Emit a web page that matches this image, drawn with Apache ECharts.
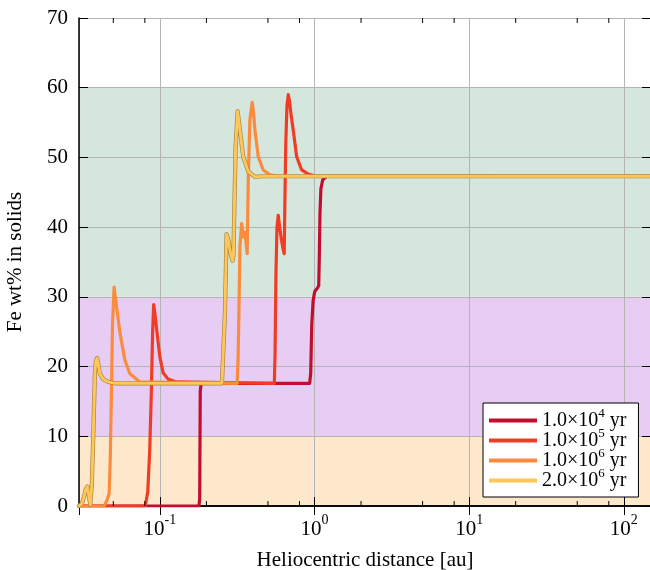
<!DOCTYPE html>
<html><head><meta charset="utf-8">
<script src="https://cdn.jsdelivr.net/npm/echarts@6/dist/echarts.min.js"></script>
<style>html,body{margin:0;padding:0;background:#fff}#c{width:650px;height:570px}</style>
</head><body><div id="c"></div>
<script>
// ---- data ----
const seriesMantissa = ['1.0', '1.0', '1.0', '2.0'];
const seriesExponent = [4, 5, 6, 6];
const seriesColors = ['#c30d2f', '#f03c24', '#fb8b3d', '#fdc75c'];

const dist1e4 = [0.03, 0.179, 0.181, 0.1825, 0.185, 0.93, 0.945, 0.96, 0.98, 1.005, 1.04, 1.065, 1.075, 1.085, 1.10, 1.13, 1.2, 150];
const fe1e4   = [0, 0, 1, 16.5, 17.6, 17.6, 19, 26, 29.5, 30.8, 31.2, 31.6, 36, 42, 45.5, 46.8, 47.3, 47.3];

const dist1e5 = [0.03, 0.0805, 0.0835, 0.086, 0.088, 0.0898, 0.0912, 0.093, 0.0955, 0.100, 0.105, 0.113, 0.128, 0.55, 0.556, 0.563, 0.572, 0.583, 0.595, 0.61, 0.625, 0.637, 0.643, 0.652, 0.664, 0.677, 0.69, 0.705, 0.729, 0.767, 0.826, 0.912, 1.0, 150];
const fe1e5   = [0, 0, 2, 8, 16, 25, 28.9, 27.5, 25.2, 21.4, 19.1, 18.2, 17.8, 17.6, 22, 33, 40, 41.7, 40, 38.3, 37, 36.2, 43, 52, 57.5, 59.0, 58.0, 56.2, 53.9, 50.1, 48.2, 47.6, 47.35, 47.3];

const dist1e6 = [0.03, 0.0436, 0.0455, 0.047, 0.0478, 0.0486, 0.0494, 0.0506, 0.0515, 0.0527, 0.0551, 0.0594, 0.0639, 0.0742, 0.316, 0.3205, 0.3245, 0.3295, 0.338, 0.346, 0.355, 0.367, 0.373, 0.382, 0.396, 0.403, 0.412, 0.433, 0.466, 0.515, 0.6, 150];
const fe1e6   = [0, 0, 0.8, 1.8, 7, 16, 26, 31.4, 30, 28.3, 25, 20.9, 19, 17.8, 17.6, 21, 27.7, 37.2, 40.5, 38.6, 39.3, 36.2, 46.8, 55.4, 57.9, 56.5, 53.9, 50.1, 48.2, 47.5, 47.3, 47.3];

const dist2e6 = [0.03, 0.0313, 0.0322, 0.0332, 0.034, 0.0347, 0.0355, 0.0363, 0.0371, 0.038, 0.0386, 0.0393, 0.040, 0.0409, 0.0418, 0.043, 0.0463, 0.0513, 0.252, 0.2569, 0.2634, 0.2702, 0.2768, 0.2869, 0.2956, 0.2991, 0.3027, 0.309, 0.3183, 0.3295, 0.3461, 0.3728, 0.4121, 0.457, 150];
const fe2e6   = [0, 0.3, 1.2, 2.4, 2.8, 1.5, 0.2, 3, 10, 19, 20.8, 21.2, 20.4, 19.0, 18.7, 18.2, 17.8, 17.6, 17.6, 17.8, 27.6, 39.0, 38.2, 36.2, 35.2, 36, 42, 51.5, 56.6, 53.9, 50.1, 48, 47.2, 47.3, 47.3];

const xMin = 0.03, xMax = 150;
const yMin = 0, yMax = 70, yStep = 10;
const xMajorExponents = [-1, 0, 1, 2];
const xMinorTicks = [0.05, 0.08, 0.2, 0.5, 0.8, 2, 5, 8, 20, 50, 80];
// bands per 10-unit interval, 0-10 ... 60-70
const bandColors = ['#fde8cc', '#e7cdf3', '#e7cdf3', '#d5e6dc', '#d5e6dc', '#d5e6dc', '#ffffff'];

// ---- chart ----
const FONT = '"Liberation Serif", "Times New Roman", serif';
const dists = [dist1e4, dist1e5, dist1e6, dist2e6];
const fes = [fe1e4, fe1e5, fe1e6, fe2e6];
const names = seriesMantissa.map((m, i) => m + '×10^' + seriesExponent[i] + ' yr');
const pairs = (d, v) => d.map((x, i) => [x, v[i]]);

const axisRich = {
  b: { fontFamily: FONT, fontSize: 21, color: '#000', lineHeight: 20 },
  s: { fontFamily: FONT, fontSize: 14, color: '#000', lineHeight: 14, padding: [0, 0, 18, 0] }
};
const legendRich = {
  b: { fontFamily: FONT, fontSize: 20, color: '#000', lineHeight: 20 },
  s: { fontFamily: FONT, fontSize: 13, color: '#000', lineHeight: 13, padding: [0, 0, 14, 0] }
};

const lineSeries = [];
names.forEach((n, i) => {
  if (i === 3) {
    lineSeries.push({
      type: 'line', name: '_outline', data: pairs(dists[i], fes[i]), showSymbol: false,
      lineStyle: { color: '#a8843a', width: 4.2, join: 'round', cap: 'round' },
      itemStyle: { color: '#a8843a' }, silent: true, animation: false
    });
  }
  lineSeries.push({
    type: 'line', name: n, data: pairs(dists[i], fes[i]), showSymbol: false,
    lineStyle: { color: seriesColors[i], width: i === 3 ? 2.9 : 3.2, join: 'round', cap: 'round' },
    itemStyle: { color: seriesColors[i] }, silent: true, animation: false
  });
});

const chart = echarts.init(document.getElementById('c'), null, { renderer: 'canvas' });
chart.setOption({
  animation: false,
  backgroundColor: '#fff',
  grid: { left: 79, right: -1, top: 18, bottom: 64, containLabel: false, outerBoundsMode: 'none' },
  xAxis: [{
    type: 'log', logBase: 10, min: xMin, max: xMax, position: 'bottom',
    name: 'Heliocentric distance [au]', nameLocation: 'middle', nameGap: 38,
    nameTextStyle: { fontFamily: FONT, fontSize: 21, color: '#000' },
    axisLine: { show: true, lineStyle: { color: '#000', width: 1.5 } },
    axisTick: { show: true, inside: true, length: 9, lineStyle: { color: '#000', width: 1 } },
    axisLabel: {
      margin: 13, showMinLabel: false, showMaxLabel: false,
      formatter: v => {
        const e = Math.round(Math.log10(v));
        if (Math.abs(Math.log10(v) - e) > 1e-6 || xMajorExponents.indexOf(e) < 0) return '';
        return '{b|10}{s|' + e + '}';
      },
      rich: axisRich
    },
    splitLine: { show: true, lineStyle: { color: '#b4b4b4', width: 1 } }
  }, {
    type: 'log', logBase: 10, min: xMin, max: xMax, position: 'top',
    axisLine: { show: true, lineStyle: { color: '#000', width: 1.5 } },
    axisTick: { show: true, inside: true, length: 9, lineStyle: { color: '#000', width: 1 } },
    axisLabel: { show: false }, splitLine: { show: false }
  }],
  yAxis: [{
    type: 'value', min: yMin, max: yMax, interval: yStep, position: 'left',
    name: 'Fe wt% in solids', nameLocation: 'middle', nameGap: 53,
    nameTextStyle: { fontFamily: FONT, fontSize: 21, color: '#000' },
    axisLine: { show: true, lineStyle: { color: '#000', width: 1.5 } },
    axisTick: { show: true, inside: true, length: 9, lineStyle: { color: '#000', width: 1 } },
    axisLabel: { margin: 11, fontFamily: FONT, fontSize: 21, color: '#000' },
    splitLine: { show: true, lineStyle: { color: '#b4b4b4', width: 1 } },
    splitArea: { show: true, areaStyle: { color: bandColors } }
  }, {
    type: 'value', min: yMin, max: yMax, interval: yStep, position: 'right',
    axisLine: { show: true, lineStyle: { color: '#000', width: 1.5 } },
    axisTick: { show: true, inside: true, length: 9, lineStyle: { color: '#000', width: 1 } },
    axisLabel: { show: false }, splitLine: { show: false }
  }],
  legend: {
    data: names, orient: 'vertical', left: 483, top: 403,
    backgroundColor: '#fff', borderColor: '#000', borderWidth: 1, borderRadius: 0,
    padding: [4, 12, 3, 6], itemGap: -7, itemWidth: 48, itemHeight: 4, icon: 'rect',
    selectedMode: false,
    textStyle: { fontFamily: FONT, fontSize: 20, color: '#000', rich: legendRich },
    formatter: n => {
      const i = names.indexOf(n);
      return '{b|' + seriesMantissa[i] + '×10}{s|' + seriesExponent[i] + '}{b| yr}';
    }
  },
  series: lineSeries.concat([{
    type: 'custom', silent: true, z: 5, clip: false,
    data: xMinorTicks.map(v => [v, 0]),
    renderItem: (params, api) => {
      const b = api.coord([api.value(0), yMin]);
      const t = api.coord([api.value(0), yMax]);
      return {
        type: 'group', children: [
          { type: 'line', shape: { x1: b[0], y1: b[1], x2: b[0], y2: b[1] - 5 }, style: { stroke: '#000', lineWidth: 1 } },
          { type: 'line', shape: { x1: t[0], y1: t[1], x2: t[0], y2: t[1] + 5 }, style: { stroke: '#000', lineWidth: 1 } }
        ]
      };
    }
  }])
});
</script></body></html>
